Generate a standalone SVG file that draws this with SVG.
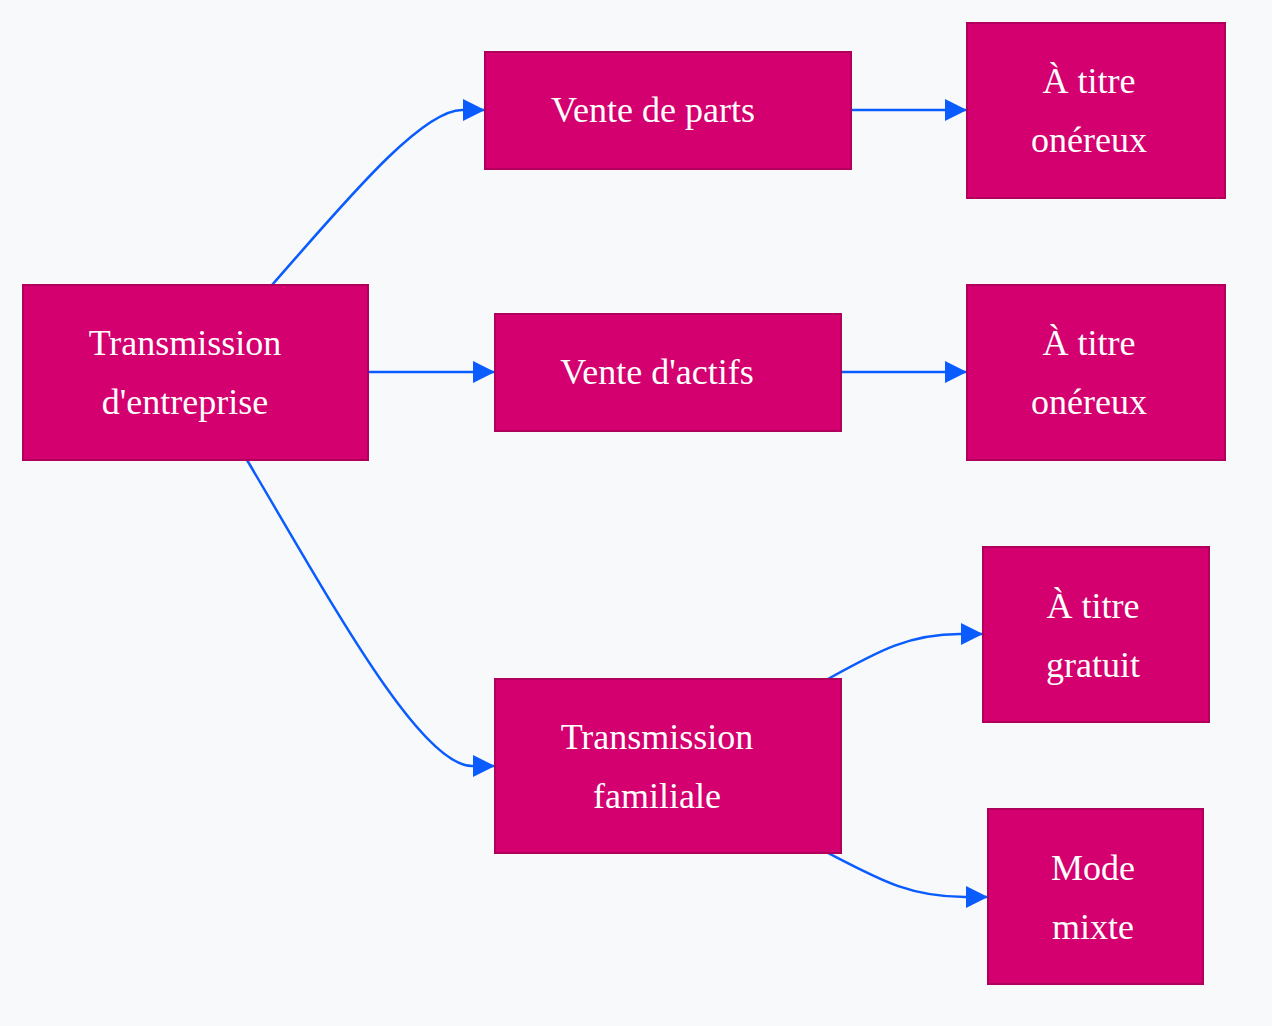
<svg xmlns="http://www.w3.org/2000/svg" width="1272" height="1026" viewBox="0 0 1272 1026">
<style>
.n{fill:#d4006f;stroke:#b0005c;stroke-width:2}
.t{fill:#fff;font-family:"Liberation Serif",serif;font-size:36px;text-anchor:middle;dominant-baseline:central}
.e{fill:none;stroke:#0a5cff;stroke-width:2.5}
</style>
<defs><marker id="a" markerUnits="userSpaceOnUse" markerWidth="24" markerHeight="22" viewBox="0 0 10 10" refX="10" refY="5" orient="auto"><path d="M0,0L10,5L0,10z" fill="#0a5cff"/></marker></defs>
<rect width="1272" height="1026" fill="#f8f9fa"/>
<g id="edges">
<path class="e" marker-end="url(#a)" d="M272,285C340,208 420,110 462,110L485,110"/>
<path class="e" marker-end="url(#a)" d="M368,372L495,372"/>
<path class="e" marker-end="url(#a)" d="M247,460C330,600 420,766 472,766L495,766"/>
<path class="e" marker-end="url(#a)" d="M851,110L967,110"/>
<path class="e" marker-end="url(#a)" d="M841,372L967,372"/>
<path class="e" marker-end="url(#a)" d="M828,679C880,650 910,634 960,634L983,634"/>
<path class="e" marker-end="url(#a)" d="M828,853C880,880 910,897 965,897L988,897"/>
</g>
<g id="A"><rect class="n" x="23" y="285" width="345" height="175"/><text class="t" x="185" y="343">Transmission</text><text class="t" x="185" y="402">d'entreprise</text></g>
<g id="B"><rect class="n" x="485" y="52" width="366" height="117"/><text class="t" x="653" y="110">Vente de parts</text></g>
<g id="C"><rect class="n" x="495" y="314" width="346" height="117"/><text class="t" x="657" y="372">Vente d'actifs</text></g>
<g id="D"><rect class="n" x="495" y="679" width="346" height="174"/><text class="t" x="657" y="737">Transmission</text><text class="t" x="657" y="796">familiale</text></g>
<g id="E1"><rect class="n" x="967" y="23" width="258" height="175"/><text class="t" x="1089" y="81">À titre</text><text class="t" x="1089" y="140">onéreux</text></g>
<g id="E2"><rect class="n" x="967" y="285" width="258" height="175"/><text class="t" x="1089" y="343">À titre</text><text class="t" x="1089" y="402">onéreux</text></g>
<g id="F"><rect class="n" x="983" y="547" width="226" height="175"/><text class="t" x="1093" y="606">À titre</text><text class="t" x="1093" y="665">gratuit</text></g>
<g id="G"><rect class="n" x="988" y="809" width="215" height="175"/><text class="t" x="1093" y="868">Mode</text><text class="t" x="1093" y="927">mixte</text></g>
</svg>
